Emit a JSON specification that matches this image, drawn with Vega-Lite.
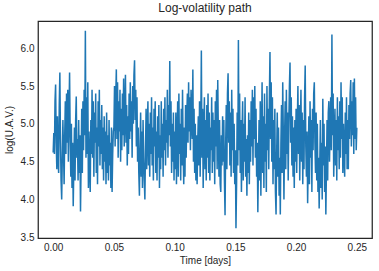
{
"$schema": "https://vega.github.io/schema/vega-lite/v6.json",
"width": 334, "height": 217,
"autosize": {"type": "none"},
"padding": {"left": 38, "top": 21, "right": 7, "bottom": 33},
"title": {"text": "Log-volatility path", "fontSize": 12, "font": "Liberation Sans", "fontWeight": "normal", "color": "#262626", "offset": 6},
"config": {
  "view": {"stroke": "#262626", "strokeWidth": 1.25},
  "font": "Liberation Sans",
  "axis": {"domain": false, "ticks": false, "grid": false, "labelFontSize": 10, "labelColor": "#262626", "titleFontSize": 10, "titleColor": "#262626", "titleFontWeight": "normal", "labelPadding": 4, "labelFont": "Liberation Sans", "titleFont": "Liberation Sans"}
},
"data": {"values": [
{"t":0,"v":4.62},{"t":0.0005,"v":4.88},{"t":0.001,"v":4.60},{"t":0.0015,"v":5.30},{"t":0.002,"v":5.52},{"t":0.0025,"v":4.75},{"t":0.003,"v":4.40},{"t":0.0035,"v":5.10},{"t":0.004,"v":4.55},{"t":0.0045,"v":4.35},{"t":0.005,"v":5.25},{"t":0.0055,"v":5.68},{"t":0.006,"v":4.80},{"t":0.0065,"v":4.25},{"t":0.007,"v":4.00},{"t":0.0075,"v":4.55},{"t":0.008,"v":5.05},{"t":0.0085,"v":4.65},{"t":0.009,"v":4.20},{"t":0.0095,"v":4.85},
{"t":0.01,"v":5.30},{"t":0.0105,"v":4.60},{"t":0.011,"v":5.40},{"t":0.0115,"v":4.75},{"t":0.012,"v":5.45},{"t":0.0125,"v":4.50},{"t":0.013,"v":5.10},{"t":0.0135,"v":5.68},{"t":0.014,"v":4.85},{"t":0.0145,"v":4.30},{"t":0.015,"v":5.00},{"t":0.0155,"v":4.15},{"t":0.016,"v":4.75},{"t":0.0165,"v":3.91},{"t":0.017,"v":4.45},{"t":0.0175,"v":4.95},{"t":0.018,"v":4.25},{"t":0.0185,"v":5.05},{"t":0.019,"v":5.36},{"t":0.0195,"v":4.55},
{"t":0.02,"v":4.80},{"t":0.0205,"v":4.25},{"t":0.021,"v":5.05},{"t":0.0215,"v":4.35},{"t":0.022,"v":4.85},{"t":0.0225,"v":3.84},{"t":0.023,"v":4.50},{"t":0.0235,"v":5.20},{"t":0.024,"v":4.35},{"t":0.0245,"v":5.30},{"t":0.025,"v":4.65},{"t":0.0255,"v":5.45},{"t":0.026,"v":4.85},{"t":0.0265,"v":6.23},{"t":0.027,"v":4.55},{"t":0.0275,"v":5.35},{"t":0.028,"v":4.60},{"t":0.0285,"v":5.55},{"t":0.029,"v":4.15},{"t":0.0295,"v":4.90},
{"t":0.03,"v":4.45},{"t":0.0305,"v":4.10},{"t":0.031,"v":5.05},{"t":0.0315,"v":4.60},{"t":0.032,"v":5.45},{"t":0.0325,"v":4.55},{"t":0.033,"v":5.30},{"t":0.0335,"v":4.30},{"t":0.034,"v":5.15},{"t":0.0345,"v":4.75},{"t":0.035,"v":5.40},{"t":0.0355,"v":4.35},{"t":0.036,"v":4.95},{"t":0.0365,"v":4.20},{"t":0.037,"v":5.30},{"t":0.0375,"v":4.70},{"t":0.038,"v":5.45},{"t":0.0385,"v":4.45},{"t":0.039,"v":5.05},{"t":0.0395,"v":4.60},
{"t":0.04,"v":5.25},{"t":0.0405,"v":4.40},{"t":0.041,"v":4.95},{"t":0.0415,"v":4.25},{"t":0.042,"v":5.10},{"t":0.0425,"v":4.50},{"t":0.043,"v":4.90},{"t":0.0435,"v":4.20},{"t":0.044,"v":5.15},{"t":0.0445,"v":4.35},{"t":0.045,"v":4.85},{"t":0.0455,"v":4.25},{"t":0.046,"v":5.05},{"t":0.0465,"v":4.45},{"t":0.047,"v":4.75},{"t":0.0475,"v":4.15},{"t":0.048,"v":4.95},{"t":0.0485,"v":4.10},{"t":0.049,"v":4.60},{"t":0.0495,"v":4.90},
{"t":0.05,"v":4.95},{"t":0.0505,"v":5.50},{"t":0.051,"v":4.70},{"t":0.0515,"v":5.35},{"t":0.052,"v":5.72},{"t":0.0525,"v":4.80},{"t":0.053,"v":5.55},{"t":0.0535,"v":4.55},{"t":0.054,"v":5.30},{"t":0.0545,"v":4.90},{"t":0.055,"v":5.45},{"t":0.0555,"v":4.50},{"t":0.056,"v":5.20},{"t":0.0565,"v":4.65},{"t":0.057,"v":5.40},{"t":0.0575,"v":4.85},{"t":0.058,"v":5.60},{"t":0.0585,"v":4.70},{"t":0.059,"v":5.15},{"t":0.0595,"v":5.65},
{"t":0.06,"v":4.75},{"t":0.0605,"v":5.25},{"t":0.061,"v":4.45},{"t":0.0615,"v":5.10},{"t":0.062,"v":4.60},{"t":0.0625,"v":5.40},{"t":0.063,"v":4.80},{"t":0.0635,"v":5.55},{"t":0.064,"v":4.90},{"t":0.0645,"v":5.30},{"t":0.065,"v":4.55},{"t":0.0655,"v":5.50},{"t":0.066,"v":5.00},{"t":0.0665,"v":5.65},{"t":0.067,"v":5.84},{"t":0.0675,"v":5.05},{"t":0.068,"v":5.45},{"t":0.0685,"v":4.70},{"t":0.069,"v":5.35},{"t":0.0695,"v":4.50},
{"t":0.07,"v":4.95},{"t":0.0705,"v":4.35},{"t":0.071,"v":4.05},{"t":0.0715,"v":4.70},{"t":0.072,"v":5.15},{"t":0.0725,"v":4.30},{"t":0.073,"v":4.90},{"t":0.0735,"v":4.15},{"t":0.074,"v":5.05},{"t":0.0745,"v":4.55},{"t":0.075,"v":4.25},{"t":0.0755,"v":4.00},{"t":0.076,"v":4.65},{"t":0.0765,"v":5.20},{"t":0.077,"v":4.40},{"t":0.0775,"v":4.90},{"t":0.078,"v":5.30},{"t":0.0785,"v":4.45},{"t":0.079,"v":5.00},{"t":0.0795,"v":4.30},
{"t":0.08,"v":5.15},{"t":0.0805,"v":4.60},{"t":0.081,"v":5.35},{"t":0.0815,"v":4.45},{"t":0.082,"v":4.95},{"t":0.0825,"v":4.25},{"t":0.083,"v":5.20},{"t":0.0835,"v":4.70},{"t":0.084,"v":5.30},{"t":0.0845,"v":4.35},{"t":0.085,"v":4.90},{"t":0.0855,"v":4.25},{"t":0.086,"v":5.10},{"t":0.0865,"v":4.55},{"t":0.087,"v":5.25},{"t":0.0875,"v":4.15},{"t":0.088,"v":4.85},{"t":0.0885,"v":4.40},{"t":0.089,"v":5.30},{"t":0.0895,"v":4.55},
{"t":0.09,"v":5.00},{"t":0.0905,"v":4.30},{"t":0.091,"v":5.20},{"t":0.0915,"v":4.65},{"t":0.092,"v":5.35},{"t":0.0925,"v":4.45},{"t":0.093,"v":5.05},{"t":0.0935,"v":4.75},{"t":0.094,"v":5.45},{"t":0.0945,"v":4.55},{"t":0.095,"v":5.25},{"t":0.0955,"v":4.85},{"t":0.096,"v":5.83},{"t":0.0965,"v":4.70},{"t":0.097,"v":5.30},{"t":0.0975,"v":4.35},{"t":0.098,"v":5.00},{"t":0.0985,"v":4.50},{"t":0.099,"v":5.15},{"t":0.0995,"v":4.25},
{"t":0.1,"v":4.90},{"t":0.1005,"v":4.40},{"t":0.101,"v":5.15},{"t":0.1015,"v":4.20},{"t":0.102,"v":4.80},{"t":0.1025,"v":5.30},{"t":0.103,"v":4.30},{"t":0.1035,"v":5.40},{"t":0.104,"v":4.60},{"t":0.1045,"v":5.00},{"t":0.105,"v":4.25},{"t":0.1055,"v":5.20},{"t":0.106,"v":4.45},{"t":0.1065,"v":5.45},{"t":0.107,"v":4.65},{"t":0.1075,"v":4.20},{"t":0.108,"v":4.95},{"t":0.1085,"v":4.30},{"t":0.109,"v":5.25},{"t":0.1095,"v":4.55},
{"t":0.11,"v":5.10},{"t":0.1105,"v":5.40},{"t":0.111,"v":4.75},{"t":0.1115,"v":5.55},{"t":0.112,"v":4.90},{"t":0.1125,"v":5.35},{"t":0.113,"v":4.65},{"t":0.1135,"v":5.45},{"t":0.114,"v":5.00},{"t":0.1145,"v":4.80},{"t":0.115,"v":5.72},{"t":0.1155,"v":4.50},{"t":0.116,"v":5.20},{"t":0.1165,"v":4.35},{"t":0.117,"v":5.00},{"t":0.1175,"v":4.25},{"t":0.118,"v":4.85},{"t":0.1185,"v":4.20},{"t":0.119,"v":4.75},{"t":0.1195,"v":5.10},
{"t":0.12,"v":4.45},{"t":0.1205,"v":5.30},{"t":0.121,"v":4.30},{"t":0.1215,"v":4.95},{"t":0.122,"v":5.97},{"t":0.1225,"v":4.55},{"t":0.123,"v":5.20},{"t":0.1235,"v":4.15},{"t":0.124,"v":4.90},{"t":0.1245,"v":5.35},{"t":0.125,"v":4.40},{"t":0.1255,"v":5.05},{"t":0.126,"v":4.25},{"t":0.1265,"v":5.25},{"t":0.127,"v":4.55},{"t":0.1275,"v":5.40},{"t":0.128,"v":4.35},{"t":0.1285,"v":5.15},{"t":0.129,"v":4.25},{"t":0.1295,"v":4.95},
{"t":0.13,"v":4.65},{"t":0.1305,"v":5.35},{"t":0.131,"v":4.35},{"t":0.1315,"v":5.15},{"t":0.132,"v":4.50},{"t":0.1325,"v":5.05},{"t":0.133,"v":4.20},{"t":0.1335,"v":5.30},{"t":0.134,"v":4.70},{"t":0.1345,"v":5.45},{"t":0.135,"v":4.40},{"t":0.1355,"v":5.58},{"t":0.136,"v":4.85},{"t":0.1365,"v":4.30},{"t":0.137,"v":5.05},{"t":0.1375,"v":4.20},{"t":0.138,"v":4.10},{"t":0.1385,"v":4.85},{"t":0.139,"v":4.45},{"t":0.1395,"v":5.10},
{"t":0.14,"v":4.50},{"t":0.1405,"v":5.05},{"t":0.141,"v":4.25},{"t":0.1415,"v":3.79},{"t":0.142,"v":4.70},{"t":0.1425,"v":5.25},{"t":0.143,"v":4.40},{"t":0.1435,"v":5.40},{"t":0.144,"v":5.67},{"t":0.1445,"v":4.75},{"t":0.145,"v":5.30},{"t":0.1455,"v":4.45},{"t":0.146,"v":5.15},{"t":0.1465,"v":4.30},{"t":0.147,"v":5.45},{"t":0.1475,"v":4.65},{"t":0.148,"v":5.20},{"t":0.1485,"v":4.35},{"t":0.149,"v":5.00},{"t":0.1495,"v":4.20},
{"t":0.15,"v":4.65},{"t":0.1505,"v":3.62},{"t":0.151,"v":4.20},{"t":0.1515,"v":5.15},{"t":0.152,"v":4.45},{"t":0.1525,"v":6.11},{"t":0.153,"v":4.65},{"t":0.1535,"v":5.40},{"t":0.154,"v":4.35},{"t":0.1545,"v":5.05},{"t":0.155,"v":4.10},{"t":0.1555,"v":4.90},{"t":0.156,"v":5.30},{"t":0.1565,"v":4.25},{"t":0.157,"v":5.00},{"t":0.1575,"v":4.50},{"t":0.158,"v":5.35},{"t":0.1585,"v":4.30},{"t":0.159,"v":4.80},{"t":0.1595,"v":4.05},
{"t":0.16,"v":4.85},{"t":0.1605,"v":4.35},{"t":0.161,"v":5.15},{"t":0.1615,"v":4.20},{"t":0.162,"v":5.05},{"t":0.1625,"v":4.50},{"t":0.163,"v":5.30},{"t":0.1635,"v":4.70},{"t":0.164,"v":5.45},{"t":0.1645,"v":4.45},{"t":0.165,"v":5.35},{"t":0.1655,"v":4.80},{"t":0.166,"v":5.50},{"t":0.1665,"v":4.55},{"t":0.167,"v":5.20},{"t":0.1675,"v":4.30},{"t":0.168,"v":4.75},{"t":0.1685,"v":3.83},{"t":0.169,"v":4.45},{"t":0.1695,"v":5.05},
{"t":0.17,"v":4.25},{"t":0.1705,"v":5.30},{"t":0.171,"v":4.05},{"t":0.1715,"v":4.85},{"t":0.172,"v":5.55},{"t":0.1725,"v":4.35},{"t":0.173,"v":5.10},{"t":0.1735,"v":4.15},{"t":0.174,"v":5.40},{"t":0.1745,"v":4.50},{"t":0.175,"v":5.00},{"t":0.1755,"v":4.10},{"t":0.176,"v":5.50},{"t":0.1765,"v":4.65},{"t":0.177,"v":5.20},{"t":0.1775,"v":4.40},{"t":0.178,"v":5.35},{"t":0.1785,"v":5.95},{"t":0.179,"v":4.80},{"t":0.1795,"v":5.55},
{"t":0.18,"v":4.50},{"t":0.1805,"v":5.35},{"t":0.181,"v":4.20},{"t":0.1815,"v":5.05},{"t":0.182,"v":4.40},{"t":0.1825,"v":5.20},{"t":0.183,"v":4.10},{"t":0.1835,"v":3.80},{"t":0.184,"v":4.60},{"t":0.1845,"v":5.15},{"t":0.185,"v":4.30},{"t":0.1855,"v":4.95},{"t":0.186,"v":4.05},{"t":0.1865,"v":4.55},{"t":0.187,"v":3.80},{"t":0.1875,"v":4.75},{"t":0.188,"v":5.25},{"t":0.1885,"v":4.35},{"t":0.189,"v":5.55},{"t":0.1895,"v":4.85},
{"t":0.19,"v":4.00},{"t":0.1905,"v":4.80},{"t":0.191,"v":5.30},{"t":0.1915,"v":4.40},{"t":0.192,"v":5.45},{"t":0.1925,"v":4.60},{"t":0.193,"v":5.15},{"t":0.1935,"v":4.25},{"t":0.194,"v":5.00},{"t":0.1945,"v":5.50},{"t":0.195,"v":5.81},{"t":0.1955,"v":4.75},{"t":0.196,"v":5.35},{"t":0.1965,"v":4.45},{"t":0.197,"v":5.10},{"t":0.1975,"v":4.30},{"t":0.198,"v":4.95},{"t":0.1985,"v":4.15},{"t":0.199,"v":5.05},{"t":0.1995,"v":4.50},
{"t":0.2,"v":5.20},{"t":0.2005,"v":4.35},{"t":0.201,"v":5.00},{"t":0.2015,"v":5.50},{"t":0.202,"v":4.60},{"t":0.2025,"v":5.25},{"t":0.203,"v":4.25},{"t":0.2035,"v":4.90},{"t":0.204,"v":5.45},{"t":0.2045,"v":4.50},{"t":0.205,"v":5.15},{"t":0.2055,"v":4.20},{"t":0.206,"v":5.05},{"t":0.2065,"v":4.40},{"t":0.207,"v":5.35},{"t":0.2075,"v":5.77},{"t":0.208,"v":4.70},{"t":0.2085,"v":4.30},{"t":0.209,"v":4.90},{"t":0.2095,"v":3.95},
{"t":0.21,"v":4.50},{"t":0.2105,"v":5.10},{"t":0.211,"v":4.20},{"t":0.2115,"v":5.30},{"t":0.212,"v":4.55},{"t":0.2125,"v":5.05},{"t":0.213,"v":4.10},{"t":0.2135,"v":5.20},{"t":0.214,"v":4.65},{"t":0.2145,"v":5.40},{"t":0.215,"v":5.55},{"t":0.2155,"v":4.75},{"t":0.216,"v":4.35},{"t":0.2165,"v":5.15},{"t":0.217,"v":4.25},{"t":0.2175,"v":5.00},{"t":0.218,"v":4.10},{"t":0.2185,"v":4.55},{"t":0.219,"v":3.88},{"t":0.2195,"v":4.45},
{"t":0.22,"v":5.05},{"t":0.2205,"v":4.15},{"t":0.221,"v":4.75},{"t":0.2215,"v":4.00},{"t":0.222,"v":5.33},{"t":0.2225,"v":4.45},{"t":0.223,"v":5.00},{"t":0.2235,"v":4.10},{"t":0.224,"v":4.70},{"t":0.2245,"v":3.80},{"t":0.225,"v":4.40},{"t":0.2255,"v":5.05},{"t":0.226,"v":4.25},{"t":0.2265,"v":5.15},{"t":0.227,"v":5.30},{"t":0.2275,"v":4.50},{"t":0.228,"v":4.95},{"t":0.2285,"v":5.35},{"t":0.229,"v":4.65},{"t":0.2295,"v":6.18},
{"t":0.23,"v":4.85},{"t":0.2305,"v":5.40},{"t":0.231,"v":4.30},{"t":0.2315,"v":4.85},{"t":0.232,"v":5.20},{"t":0.2325,"v":4.45},{"t":0.233,"v":5.05},{"t":0.2335,"v":4.25},{"t":0.234,"v":5.35},{"t":0.2345,"v":4.65},{"t":0.235,"v":5.10},{"t":0.2355,"v":4.40},{"t":0.236,"v":5.30},{"t":0.2365,"v":4.55},{"t":0.237,"v":5.55},{"t":0.2375,"v":4.80},{"t":0.238,"v":5.35},{"t":0.2385,"v":4.35},{"t":0.239,"v":5.00},{"t":0.2395,"v":4.60},
{"t":0.24,"v":4.30},{"t":0.2405,"v":5.15},{"t":0.241,"v":4.60},{"t":0.2415,"v":5.35},{"t":0.242,"v":4.40},{"t":0.2425,"v":5.05},{"t":0.243,"v":4.40},{"t":0.2435,"v":5.25},{"t":0.244,"v":4.80},{"t":0.2445,"v":5.40},{"t":0.245,"v":5.58},{"t":0.2455,"v":4.70},{"t":0.246,"v":5.30},{"t":0.2465,"v":4.85},{"t":0.247,"v":5.55},{"t":0.2475,"v":4.60},{"t":0.248,"v":5.60},{"t":0.2485,"v":4.80},{"t":0.249,"v":5.35},{"t":0.2495,"v":4.65},
{"t":0.25,"v":4.95}
]},
"mark": {"type": "line", "color": "#1f77b4", "strokeWidth": 1.5},
"encoding": {
  "x": {"field": "t", "type": "quantitative", "title": "Time [days]",
        "scale": {"domain": [-0.0125, 0.2625], "nice": false, "zero": false},
        "axis": {"values": [0, 0.05, 0.1, 0.15, 0.2, 0.25], "format": ".2f", "titlePadding": 3}},
  "y": {"field": "v", "type": "quantitative", "title": "log(U.A.V.)",
        "scale": {"domain": [3.49, 6.36], "nice": false, "zero": false},
        "axis": {"values": [3.5, 4, 4.5, 5, 5.5, 6], "format": ".1f", "titlePadding": 6}}
}
}
